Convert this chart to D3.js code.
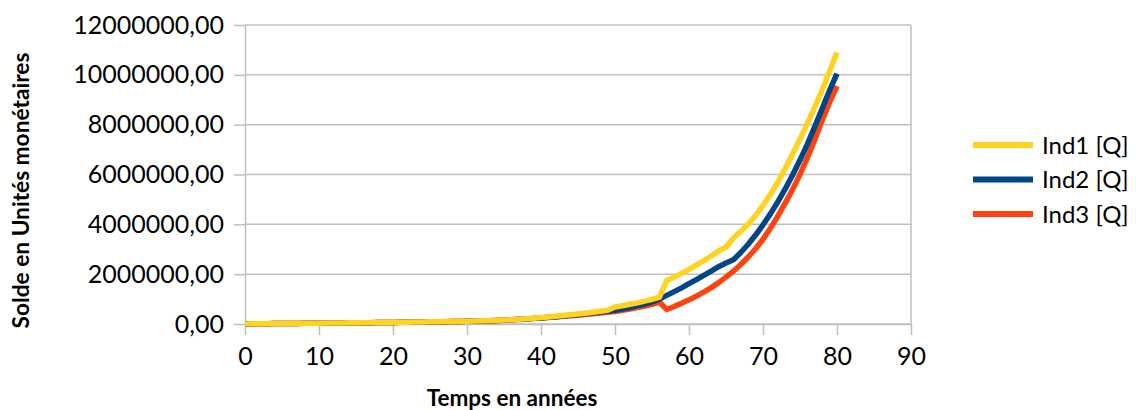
<!DOCTYPE html>
<html lang="fr">
<head>
<meta charset="utf-8">
<script src="https://cdn.jsdelivr.net/npm/d3@7"></script>
<style>
  html, body { margin: 0; padding: 0; background: #ffffff; }
  svg { display: block; }
  text { font-family: Lato, "Open Sans", sans-serif; fill: #000000; }
</style>
</head>
<body>
<svg id="chart" width="1136" height="410"></svg>
<script>
// Years 0..80 of the simulation
const years = d3.range(0, 81);

// Balance per year (monetary units) for each indicator
const ind1 = [
  5000, 8000, 11000, 14000, 17000, 20000, 23000, 26000, 29000, 32000,
  35000, 38000, 41000, 44000, 47000, 50000, 53000, 56000, 59000, 62000,
  66000, 70000, 74000, 78000, 82000, 87000, 92000, 97000, 103000, 109000,
  115000, 122000, 130000, 139000, 149000, 160000, 175000, 192000, 212000, 235000,
  260000, 285000, 310000, 340000, 370000, 400000, 430000, 470000, 510000, 550000,
  680000, 730000, 790000, 850000, 920000, 990000, 1080000, 1750000, 1880000, 2030000,
  2190000, 2360000, 2540000, 2730000, 2930000, 3080000, 3450000, 3720000, 4000000, 4360000,
  4760000, 5200000, 5690000, 6240000, 6820000, 7420000, 8050000, 8700000, 9400000, 10150000,
  10900000
];
const ind2 = [
  4000, 7000, 10000, 13000, 16000, 19000, 22000, 25000, 28000, 31000,
  34000, 37000, 40000, 43000, 46000, 49000, 52000, 55000, 58000, 61000,
  64000, 68000, 72000, 76000, 80000, 84000, 89000, 94000, 99000, 105000,
  111000, 118000, 126000, 135000, 145000, 156000, 170000, 186000, 205000, 226000,
  245000, 270000, 295000, 320000, 350000, 380000, 410000, 445000, 480000, 515000,
  550000, 600000, 660000, 730000, 800000, 880000, 1000000, 1150000, 1300000, 1450000,
  1620000, 1780000, 1950000, 2120000, 2300000, 2450000, 2580000, 2870000, 3200000, 3570000,
  3980000, 4420000, 4900000, 5420000, 5980000, 6580000, 7220000, 7920000, 8650000, 9380000,
  10050000
];
const ind3 = [
  4000, 7000, 10000, 13000, 16000, 19000, 22000, 25000, 28000, 31000,
  34000, 37000, 40000, 43000, 46000, 49000, 52000, 55000, 58000, 61000,
  64000, 67000, 71000, 75000, 79000, 83000, 88000, 93000, 98000, 104000,
  110000, 117000, 125000, 134000, 144000, 155000, 168000, 183000, 200000, 220000,
  240000, 260000, 285000, 310000, 330000, 355000, 380000, 410000, 440000, 470000,
  500000, 550000, 600000, 660000, 720000, 790000, 880000, 580000, 700000, 830000,
  970000, 1120000, 1280000, 1460000, 1660000, 1880000, 2120000, 2390000, 2690000, 3020000,
  3400000, 3840000, 4330000, 4850000, 5400000, 6000000, 6680000, 7400000, 8180000, 8900000,
  9550000
];

const seriesNames = ["Ind1 [Q]", "Ind2 [Q]", "Ind3 [Q]"];
const seriesColors = ["#ffd320", "#004586", "#ff420e"];

const xTicks = [0, 10, 20, 30, 40, 50, 60, 70, 80, 90];
const yTicks = [0, 2000000, 4000000, 6000000, 8000000, 10000000, 12000000];

const xTitle = "Temps en années";
const yTitle = "Solde en Unités monétaires";

const svg = d3.select("#chart");
const plot = { left: 245, right: 911, top: 25, bottom: 324 };
const gridColor = "#bfbfbf";

const x = d3.scaleLinear().domain([0, 90]).range([plot.left, plot.right]);
const y = d3.scaleLinear().domain([0, 12000000]).range([plot.bottom, plot.top]);

// Value labels use a comma as the decimal separator and no grouping
const frLocale = d3.formatLocale({ decimal: ",", thousands: "", grouping: [3], currency: ["", ""] });
const fmt = frLocale.format(".2f");

// Horizontal grid lines
svg.append("g")
  .selectAll("line")
  .data(yTicks)
  .join("line")
  .attr("x1", plot.left)
  .attr("x2", plot.right)
  .attr("y1", d => y(d))
  .attr("y2", d => y(d))
  .attr("stroke", gridColor)
  .attr("stroke-width", 1.5);

// Right edge of the plot area
svg.append("line")
  .attr("x1", plot.right).attr("x2", plot.right)
  .attr("y1", plot.top).attr("y2", plot.bottom)
  .attr("stroke", gridColor).attr("stroke-width", 1.5);

// Y axis
const yAxis = svg.append("g")
  .attr("transform", `translate(${plot.left},0)`)
  .call(d3.axisLeft(y).tickValues(yTicks).tickFormat(fmt).tickSize(11).tickSizeOuter(0).tickPadding(10));

// X axis
const xAxis = svg.append("g")
  .attr("transform", `translate(0,${plot.bottom})`)
  .call(d3.axisBottom(x).tickValues(xTicks).tickFormat(d3.format("d")).tickSize(11).tickSizeOuter(0).tickPadding(12));

[yAxis, xAxis].forEach(g => {
  g.select(".domain").attr("stroke", gridColor).attr("stroke-width", 1.5);
  g.selectAll(".tick line").attr("stroke", gridColor).attr("stroke-width", 1.5);
  g.selectAll(".tick text")
    .attr("fill", "#000")
    .style("font-family", "Lato, sans-serif")
    .style("font-size", "25px");
});

// Series lines (first series drawn last so it sits on top)
const line = d3.line()
  .x((d, i) => x(years[i]))
  .y(d => y(d));

const allSeries = [ind1, ind2, ind3];
svg.append("g")
  .selectAll("path")
  .data(allSeries.map((v, i) => ({ v, i })).reverse())
  .join("path")
  .attr("d", d => line(d.v))
  .attr("fill", "none")
  .attr("stroke", d => seriesColors[d.i])
  .attr("stroke-width", 5.5)
  .attr("stroke-linejoin", "round");

// Legend
const legend = svg.append("g");
const legendY = d3.scalePoint().domain(seriesNames).range([145, 214]);
seriesNames.forEach((name, i) => {
  legend.append("line")
    .attr("x1", 973).attr("x2", 1033)
    .attr("y1", legendY(name)).attr("y2", legendY(name))
    .attr("stroke", seriesColors[i])
    .attr("stroke-width", 6);
  legend.append("text")
    .attr("x", 1042)
    .attr("y", legendY(name))
    .attr("dy", "0.36em")
    .style("font-size", "24px")
    .text(name);
});

// Axis titles
svg.append("text")
  .attr("x", 512)
  .attr("y", 406)
  .attr("text-anchor", "middle")
  .style("font-weight", "bold")
  .style("font-size", "22.5px")
  .text(xTitle);

svg.append("text")
  .attr("transform", "translate(29,190.5) rotate(-90)")
  .attr("text-anchor", "middle")
  .style("font-weight", "bold")
  .style("font-size", "22.7px")
  .text(yTitle);
</script>
</body>
</html>
